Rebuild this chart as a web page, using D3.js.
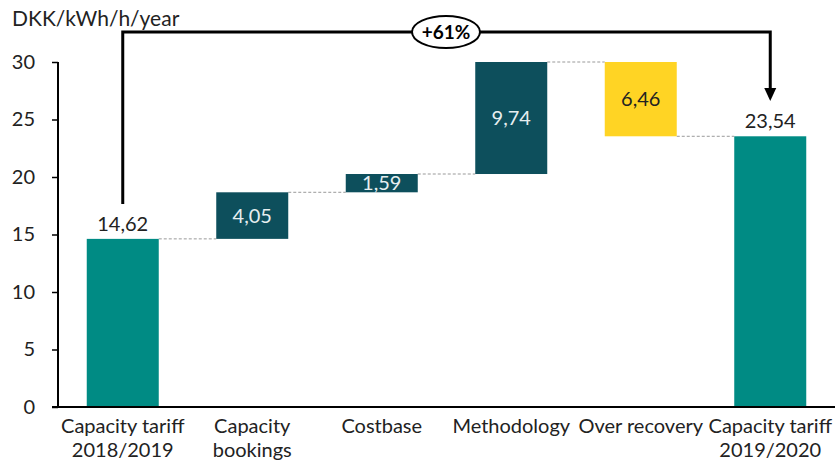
<!DOCTYPE html>
<html>
<head>
<meta charset="utf-8">
<script src="https://cdn.jsdelivr.net/npm/d3@7"></script>
<style>
html,body{margin:0;padding:0;background:#fff;}
svg{display:block;font-family:Lato, "Open Sans", sans-serif;}
</style>
</head>
<body>
<svg id="chart" width="835" height="460"></svg>
<script>
const categories = [["Capacity tariff","2018/2019"],["Capacity","bookings"],["Costbase"],["Methodology"],["Over recovery"],["Capacity tariff","2019/2020"]];
const values = [14.62, 4.05, 1.59, 9.74, -6.46, 23.54];
const kinds = ["total","up","up","up","down","total"];
const labels = ["14,62","4,05","1,59","9,74","6,46","23,54"];
const yTicks = [0,5,10,15,20,25,30];
const yTitle = "DKK/kWh/h/year";
const changeLabel = "+61%";

const colors = {total:"#008B84", up:"#0D4F5C", down:"#FFD424"};
const labelColors = {total:"#222", up:"#e6eef0", down:"#222"};
const FS = 20;

const svg = d3.select("#chart");
const x = d3.scaleBand().domain(d3.range(categories.length)).range([58,835]).paddingInner(0.444).paddingOuter(0.222);
const y = d3.scaleLinear().domain([0,30]).range([407,62]);

let run = 0;
const bars = values.map((v,i)=>{
  let y0,y1;
  if(kinds[i]==="total"){ y0=0; y1=v; run=v; }
  else { y0=run; y1=run+v; run=y1; }
  return {i, y0, y1, lo:Math.min(y0,y1), hi:Math.max(y0,y1), kind:kinds[i], end:run};
});

for(let i=0;i<bars.length-1;i++){
  const lvl = bars[i].end;
  svg.append("line")
    .attr("x1", x(i)+x.bandwidth()).attr("x2", x(i+1))
    .attr("y1", y(lvl)).attr("y2", y(lvl))
    .attr("stroke","#999").attr("stroke-width",1).attr("stroke-dasharray","3,2");
}

svg.selectAll("rect.bar").data(bars).enter().append("rect")
  .attr("x", d=>x(d.i)).attr("width", x.bandwidth())
  .attr("y", d=>y(d.hi)).attr("height", d=>y(d.lo)-y(d.hi))
  .attr("fill", d=>colors[d.kind]);

svg.selectAll("text.val").data(bars).enter().append("text")
  .attr("x", d=>x(d.i)+x.bandwidth()/2)
  .attr("y", d=> d.kind==="total" ? y(d.hi)-8 : (y(d.hi)+y(d.lo))/2 + 7)
  .attr("text-anchor","middle")
  .attr("font-size",FS)
  .attr("fill", d=>labelColors[d.kind])
  .text((d,i)=>labels[i]);

const yAxis = d3.axisLeft(y).tickValues(yTicks).tickSize(6).tickPadding(17).tickFormat(d3.format("d"));
const ga = svg.append("g").attr("transform","translate(58,0)").call(yAxis);
ga.select(".domain").attr("d","M0,62V407").attr("stroke","#000").attr("stroke-width",2);
ga.selectAll(".tick line").attr("stroke","#000").attr("stroke-width",1.5);
ga.selectAll(".tick text").attr("font-size",FS).attr("fill","#222").attr("font-family","Lato, sans-serif");

const xAxis = d3.axisBottom(x).tickSize(0).tickFormat("");
const gx = svg.append("g").attr("transform","translate(0,407)").call(xAxis);
gx.select(".domain").attr("d","M52,0H835").attr("stroke","#000").attr("stroke-width",2);

const cat = svg.selectAll("text.cat").data(categories).enter().append("text")
  .attr("text-anchor","middle").attr("font-size",FS).attr("fill","#222");
cat.each(function(lines,i){
  const t = d3.select(this);
  lines.forEach((ln,j)=>{
    t.append("tspan").attr("x", x(i)+x.bandwidth()/2).attr("y", 433+j*24).text(ln);
  });
});

svg.append("text").attr("x",12).attr("y",26).attr("font-size",21).attr("fill","#222").text(yTitle);

const xs = x(0)+x.bandwidth()/2, xe = x(5)+x.bandwidth()/2;
const topY = 32, leftEnd = 204, tipY = 101;
svg.append("path")
  .attr("d", `M${xs},${leftEnd}V${topY}H${xe}V${tipY-12}`)
  .attr("fill","none").attr("stroke","#000").attr("stroke-width",3);
svg.append("path")
  .attr("d", `M${xe-6},${tipY-13}L${xe+6},${tipY-13}L${xe},${tipY}Z`)
  .attr("fill","#000");
const ex = 446;
svg.append("ellipse").attr("cx",ex).attr("cy",topY).attr("rx",34).attr("ry",16)
  .attr("fill","#fff").attr("stroke","#000").attr("stroke-width",2);
svg.append("text").attr("x",ex).attr("y",topY+7).attr("text-anchor","middle")
  .attr("font-size",19).attr("font-weight","bold").attr("fill","#000").text(changeLabel);
</script>
</body>
</html>
